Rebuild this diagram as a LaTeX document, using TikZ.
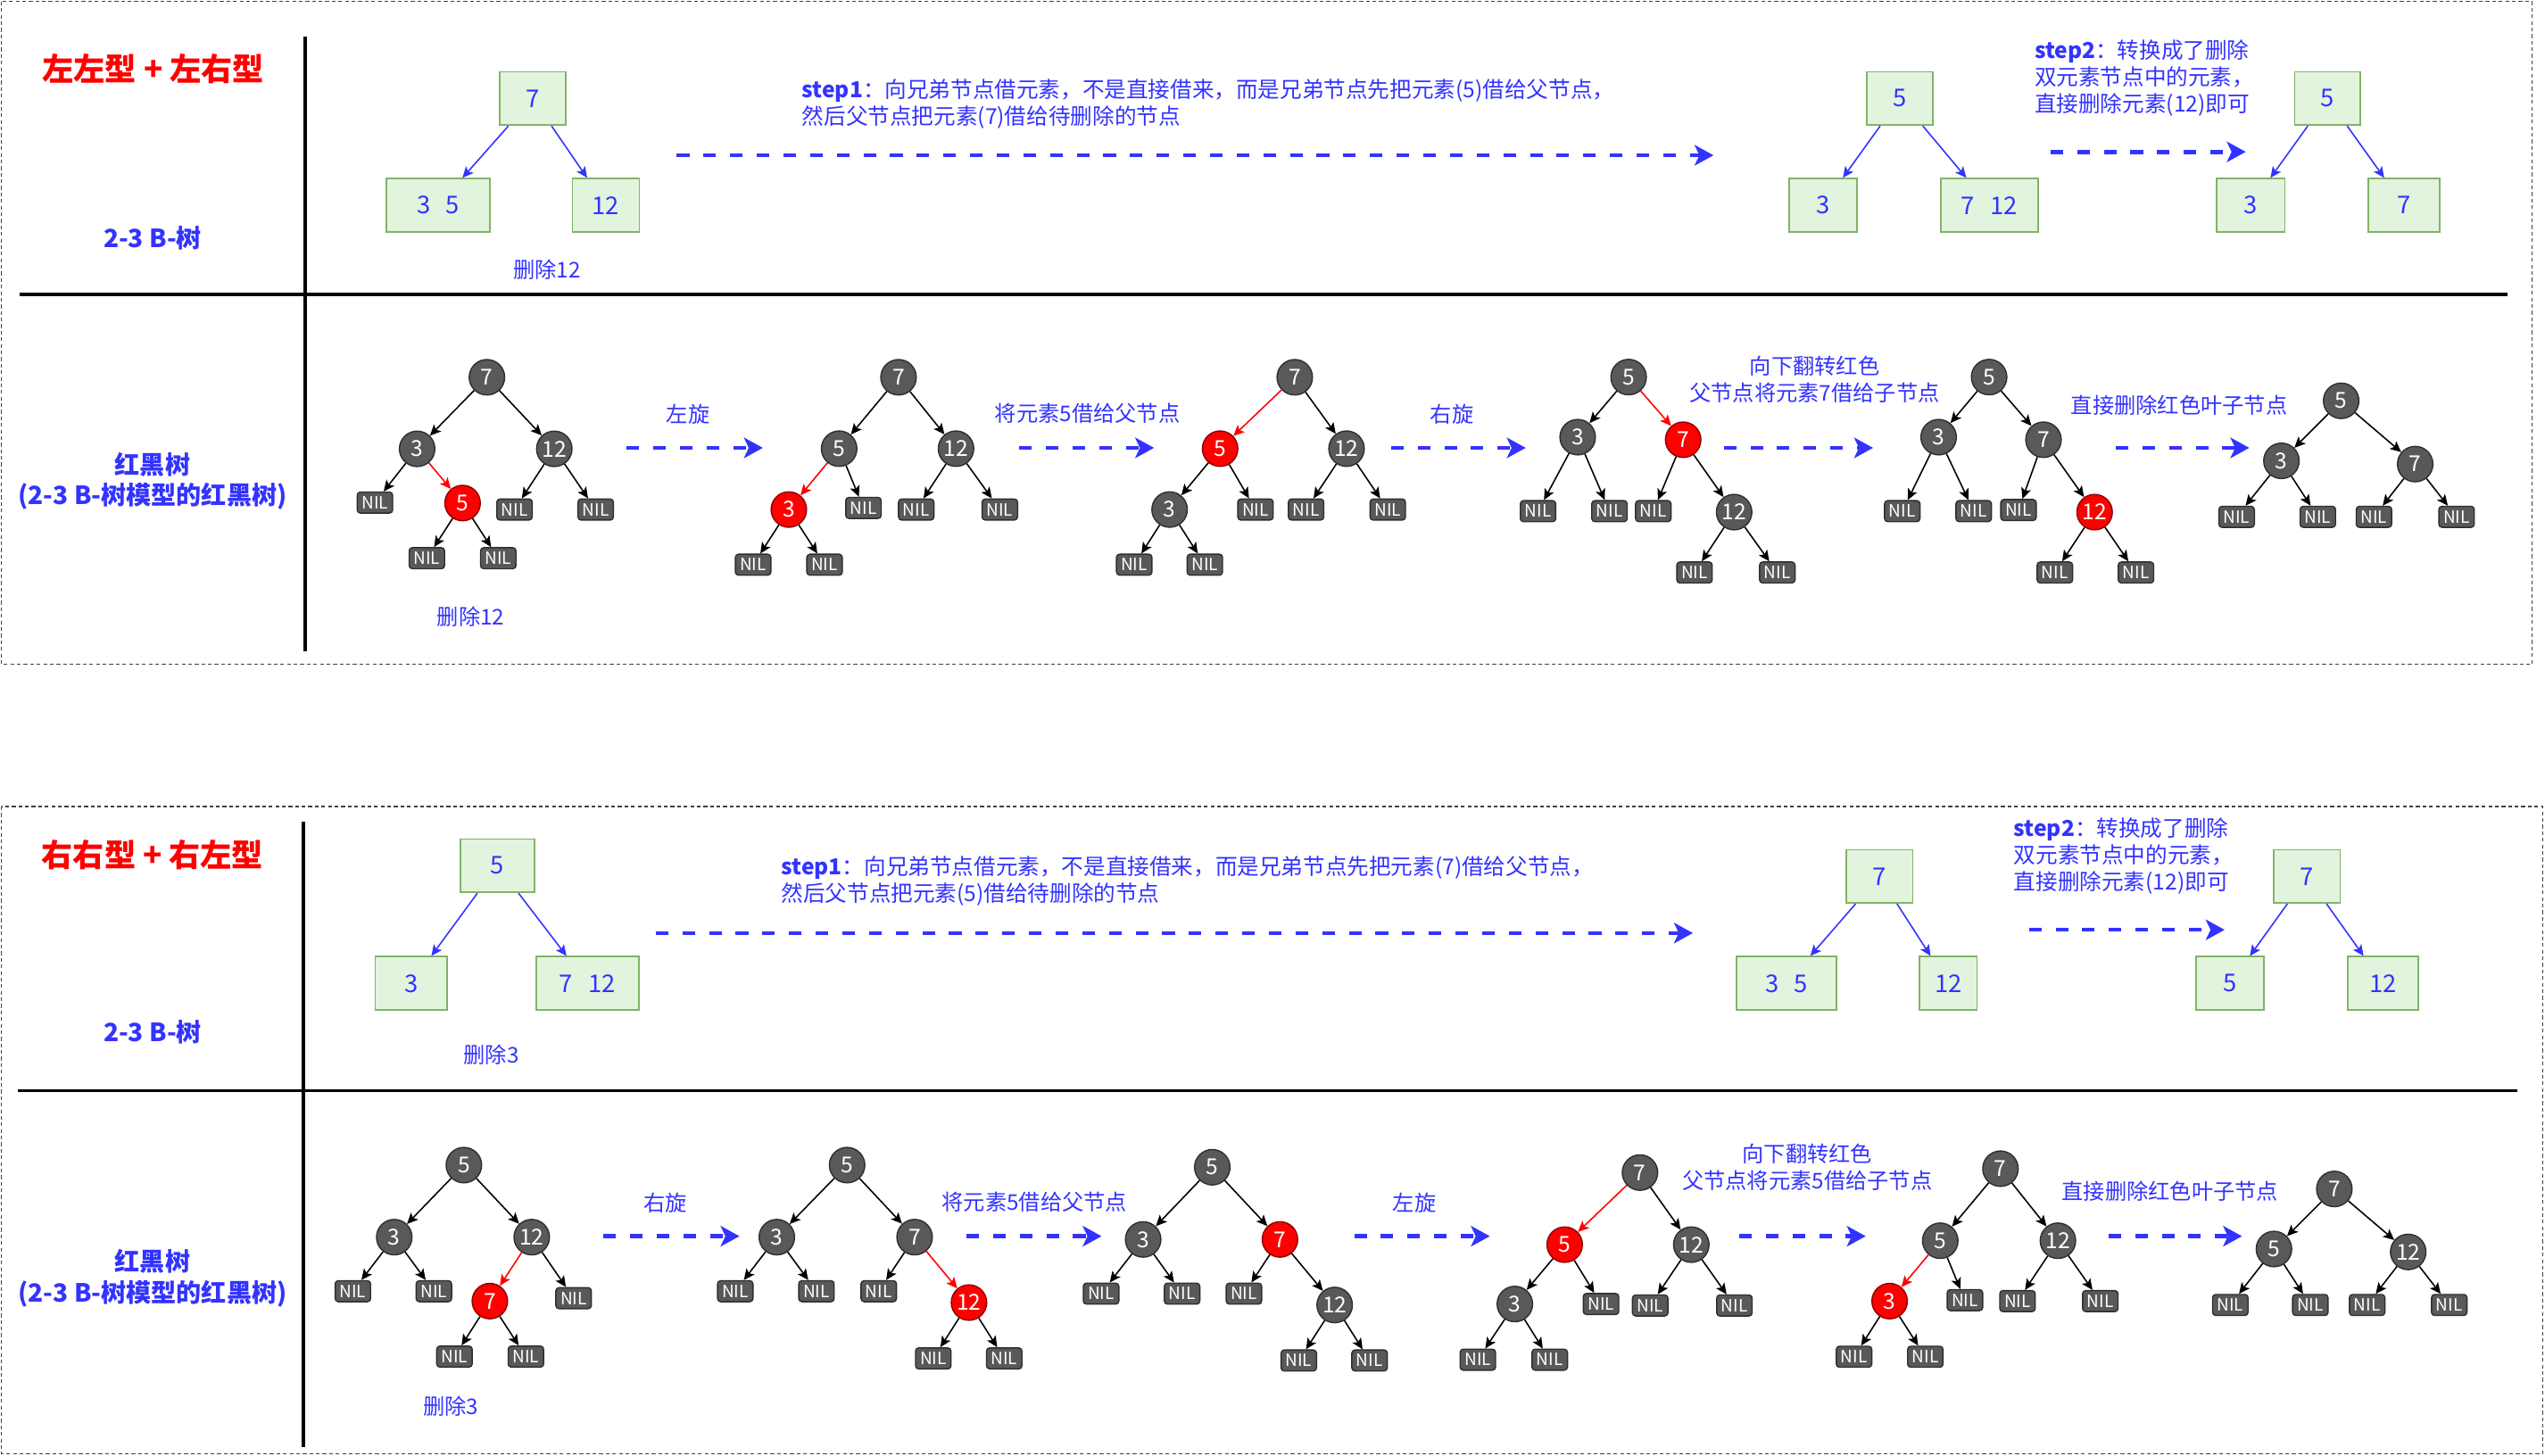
\documentclass[tikz,border=0pt]{standalone}
\usepackage{fontspec}
\setmainfont{Noto Sans CJK SC}
\usetikzlibrary{arrows.meta}
\definecolor{tblue}{HTML}{3333FF}
\definecolor{ngray}{HTML}{595959}
\definecolor{nborder}{HTML}{2E2E2E}
\definecolor{gfill}{HTML}{E2F4DE}
\definecolor{gdraw}{HTML}{82B366}
\definecolor{tred}{HTML}{FF0000}
\begin{document}
\begin{tikzpicture}[x=0.018189cm,y=-0.018189cm,
  blk/.style={circle, draw=nborder, fill=ngray, line width=0.4pt, minimum size=11.3pt, inner sep=0pt, text=white, font=\fontsize{7}{7}\selectfont},
  redn/.style={blk, fill=tred, draw=red!55!black},
  nilb/.style={rectangle, rounded corners=1pt, draw=nborder, fill=ngray, line width=0.4pt, minimum width=11.3pt, minimum height=6.7pt, inner sep=0pt, text=white, font=\fontsize{5.4}{5.4}\selectfont},
  gbox/.style={rectangle, draw=gdraw, fill=gfill, line width=0.5pt, minimum height=17pt, inner sep=0pt, text=tblue, font=\fontsize{7.8}{8}\selectfont},
  tedge/.style={-{Stealth[length=3.5pt,width=3.2pt,inset=0.8pt]}, line width=0.45pt, draw=black},
  redge/.style={tedge, draw=tred},
  bedge/.style={tedge, draw=tblue},
  darr/.style={draw=tblue, line width=1.3pt, dash pattern=on 4pt off 4.5pt, -{Stealth[length=6pt,width=6.5pt,inset=1.5pt]}},
  lbl/.style={text=tblue, font=\fontsize{6.9}{8.6}\selectfont, inner sep=0pt, align=center},
  stept/.style={text=tblue, font=\fontsize{7}{8.5}\selectfont, inner sep=0pt, align=left, anchor=west},
  ttl/.style={text=tred, font=\fontsize{10}{12}\selectfont\bfseries, inner sep=0pt},
  side/.style={text=tblue, font=\fontsize{8}{9.8}\selectfont\bfseries, inner sep=0pt, align=center},
  panel/.style={draw=black!75, line width=0.35pt, dash pattern=on 1.2pt off 0.9pt},
  divl/.style={draw=black, line width=1pt}
]
\useasboundingbox (0,0) rectangle (1568,897);

% ================= panels =================
\draw[panel] (1,1) rectangle (1560,409.5);
\draw[panel] (1,497) rectangle (1566.5,895.8);
\draw[divl] (188,22.4) -- (188,401.3);
\draw[divl] (12,181.4) -- (1545,181.4);
\draw[divl] (187,506.2) -- (187,891.6);
\draw[divl] (11.2,672) -- (1551,672);

% ================= left labels =================
\node[ttl] (tt1) at (94.5,42.5) {左左型 + 左右型};
\node[side] (sa1) at (94,146.6) {2-3 B-树};
\node[side] (sb1) at (94,296.5) {红黑树\\(2-3 B-树模型的红黑树)};
\node[ttl] (tt2) at (94,526.9) {右右型 + 右左型};
\node[side] (sa2) at (94,636) {2-3 B-树};
\node[side] (sb2) at (94,787.6) {红黑树\\(2-3 B-树模型的红黑树)};

% ================= top: 2-3 B tree =================
\node[gbox, minimum width=21pt] (p7) at (328.2,60.7) {7};
\node[gbox, minimum width=33pt] (p35) at (270,126.5) {3\hspace{5pt}5};
\node[gbox, minimum width=21.3pt] (p12) at (373.3,126.5) {12};
\draw[bedge] (p7) -- (p35);
\draw[bedge] (p7) -- (p12);
\node[lbl] (pdel) at (337,166) {删除12};

\node[stept] (ps1) at (493.8,64.2) {\textbf{step1}：向兄弟节点借元素，不是直接借来，而是兄弟节点先把元素(5)借给父节点，\\然后父节点把元素(7)借给待删除的节点};
\coordinate (pa1s) at (417,95.7);
\coordinate (pa1e) at (1055.7,95.7);
\draw[darr] (pa1s) -- (pa1e);

\node[gbox, minimum width=21.1pt] (q5) at (1170.5,60.7) {5};
\node[gbox, minimum width=21.7pt] (q3) at (1123.3,126.5) {3};
\node[gbox, minimum width=31pt] (q712) at (1225.6,126.5) {7\hspace{5pt}12};
\draw[bedge] (q5) -- (q3);
\draw[bedge] (q5) -- (q712);

\node[stept] (ps2) at (1253.2,48) {\textbf{step2}：转换成了删除\\双元素节点中的元素，\\直接删除元素(12)即可};
\coordinate (pa2s) at (1263.3,93.6);
\coordinate (pa2e) at (1383.6,93.6);
\draw[darr] (pa2s) -- (pa2e);

\node[gbox, minimum width=21pt] (r5) at (1434,60.7) {5};
\node[gbox, minimum width=21.7pt] (r3) at (1386.7,126.5) {3};
\node[gbox, minimum width=22.8pt] (r7) at (1481,126.5) {7};
\draw[bedge] (r5) -- (r3);
\draw[bedge] (r5) -- (r7);

% ================= top: red-black trees =================
% tree a
\node[blk] (a7) at (300,232.5) {7};
\node[blk] (a3) at (257,276.6) {3};
\node[blk] (a12) at (341.5,276.6) {12};
\node[nilb] (a3l) at (231,309.7) {NIL};
\node[redn] (a5) at (285,310) {5};
\node[nilb] (a12l) at (317,314) {NIL};
\node[nilb] (a12r) at (367,314) {NIL};
\node[nilb] (a5l) at (263,344) {NIL};
\node[nilb] (a5r) at (307,344) {NIL};
\draw[tedge] (a7) -- (a3);
\draw[tedge] (a7) -- (a12);
\draw[tedge] (a3) -- (a3l);
\draw[redge] (a3) -- (a5);
\draw[tedge] (a12) -- (a12l);
\draw[tedge] (a12) -- (a12r);
\draw[tedge] (a5) -- (a5l);
\draw[tedge] (a5) -- (a5r);
\node[lbl] (adel) at (290,380) {删除12};

\node[lbl] (l1) at (424,255) {左旋};
\coordinate (m1s) at (386,276);
\coordinate (m1e) at (470,276);
\draw[darr] (m1s) -- (m1e);

% tree b
\node[blk] (b7) at (553.6,232.5) {7};
\node[blk] (b5) at (517,276.5) {5};
\node[blk] (b12) at (589,276.5) {12};
\node[redn] (b3) at (486,314) {3};
\node[nilb] (b5r) at (532,313) {NIL};
\node[nilb] (b12l) at (564.5,314) {NIL};
\node[nilb] (b12r) at (616,314) {NIL};
\node[nilb] (b3l) at (464,348) {NIL};
\node[nilb] (b3r) at (508,348) {NIL};
\draw[tedge] (b7) -- (b5);
\draw[tedge] (b7) -- (b12);
\draw[redge] (b5) -- (b3);
\draw[tedge] (b5) -- (b5r);
\draw[tedge] (b12) -- (b12l);
\draw[tedge] (b12) -- (b12r);
\draw[tedge] (b3) -- (b3l);
\draw[tedge] (b3) -- (b3r);

\node[lbl] (l2) at (670,255) {将元素5借给父节点};
\coordinate (m2s) at (628,276);
\coordinate (m2e) at (711,276);
\draw[darr] (m2s) -- (m2e);

% tree c
\node[blk] (c7) at (797.7,232.5) {7};
\node[redn] (c5) at (751.7,276.5) {5};
\node[blk] (c12) at (829.6,276.5) {12};
\node[blk] (c3) at (720.6,314) {3};
\node[nilb] (c5r) at (773.5,314) {NIL};
\node[nilb] (c12l) at (804.7,314) {NIL};
\node[nilb] (c12r) at (855,314) {NIL};
\node[nilb] (c3l) at (698.8,348) {NIL};
\node[nilb] (c3r) at (742.3,348) {NIL};
\draw[redge] (c7) -- (c5);
\draw[tedge] (c7) -- (c12);
\draw[tedge] (c5) -- (c3);
\draw[tedge] (c5) -- (c5r);
\draw[tedge] (c12) -- (c12l);
\draw[tedge] (c12) -- (c12r);
\draw[tedge] (c3) -- (c3l);
\draw[tedge] (c3) -- (c3r);

\node[lbl] (l3) at (894.5,255) {右旋};
\coordinate (m3s) at (857,276);
\coordinate (m3e) at (940,276);
\draw[darr] (m3s) -- (m3e);

% tree d
\node[blk] (d5) at (1003.4,232.4) {5};
\node[blk] (d3) at (972,269.4) {3};
\node[redn] (d7) at (1037,271) {7};
\node[nilb] (d3l) at (947.6,315) {NIL};
\node[nilb] (d3r) at (991.6,315) {NIL};
\node[nilb] (d7l) at (1018.6,315) {NIL};
\node[blk] (d12) at (1068.4,315.6) {12};
\node[nilb] (d12l) at (1044,352.8) {NIL};
\node[nilb] (d12r) at (1095,352.8) {NIL};
\draw[tedge] (d5) -- (d3);
\draw[redge] (d5) -- (d7);
\draw[tedge] (d3) -- (d3l);
\draw[tedge] (d3) -- (d3r);
\draw[tedge] (d7) -- (d7l);
\draw[tedge] (d7) -- (d12);
\draw[tedge] (d12) -- (d12l);
\draw[tedge] (d12) -- (d12r);

\node[lbl] (l4) at (1118,233.7) {向下翻转红色\\父节点将元素7借给子节点};
\coordinate (m4s) at (1062,276);
\coordinate (m4e) at (1154,276);
\draw[darr] (m4s) -- (m4e);

% tree e
\node[blk] (e5) at (1225.5,232.4) {5};
\node[blk] (e3) at (1194.4,269.4) {3};
\node[blk] (e7) at (1259,271) {7};
\node[nilb] (e3l) at (1172,315) {NIL};
\node[nilb] (e3r) at (1216,315) {NIL};
\node[nilb] (e7l) at (1243.6,314.3) {NIL};
\node[redn] (e12) at (1290.5,315.6) {12};
\node[nilb] (e12l) at (1266,352.8) {NIL};
\node[nilb] (e12r) at (1316,352.8) {NIL};
\draw[tedge] (e5) -- (e3);
\draw[tedge] (e5) -- (e7);
\draw[tedge] (e3) -- (e3l);
\draw[tedge] (e3) -- (e3r);
\draw[tedge] (e7) -- (e7l);
\draw[tedge] (e7) -- (e12);
\draw[tedge] (e12) -- (e12l);
\draw[tedge] (e12) -- (e12r);

\node[lbl] (l5) at (1342.6,250) {直接删除红色叶子节点};
\coordinate (m5s) at (1303.5,276);
\coordinate (m5e) at (1385.8,276);
\draw[darr] (m5s) -- (m5e);

% tree f
\node[blk] (f5) at (1442.4,247) {5};
\node[blk] (f3) at (1405.6,284) {3};
\node[blk] (f7) at (1488,286) {7};
\node[nilb] (f3l) at (1378,318.5) {NIL};
\node[nilb] (f3r) at (1428,318.5) {NIL};
\node[nilb] (f7l) at (1462.6,318.5) {NIL};
\node[nilb] (f7r) at (1513.5,318.5) {NIL};
\draw[tedge] (f5) -- (f3);
\draw[tedge] (f5) -- (f7);
\draw[tedge] (f3) -- (f3l);
\draw[tedge] (f3) -- (f3r);
\draw[tedge] (f7) -- (f7l);
\draw[tedge] (f7) -- (f7r);

% ================= bottom: 2-3 B tree =================
\node[gbox, minimum width=23.7pt] (u5) at (306.5,533.5) {5};
\node[gbox, minimum width=23pt] (u3) at (253.4,606) {3};
\node[gbox, minimum width=32.8pt] (u712) at (362,606) {7\hspace{5pt}12};
\draw[bedge] (u5) -- (u3);
\draw[bedge] (u5) -- (u712);
\node[lbl] (udel) at (302.7,649.7) {删除3};

\node[stept] (us1) at (481,543) {\textbf{step1}：向兄弟节点借元素，不是直接借来，而是兄弟节点先把元素(7)借给父节点，\\然后父节点把元素(5)借给待删除的节点};
\coordinate (ua1s) at (404,575);
\coordinate (ua1e) at (1043,575);
\draw[darr] (ua1s) -- (ua1e);

\node[gbox, minimum width=21.3pt] (v7) at (1157.9,540.1) {7};
\node[gbox, minimum width=32pt] (v35) at (1100.7,606) {3\hspace{5pt}5};
\node[gbox, minimum width=18.3pt] (v12) at (1200.3,606) {12};
\draw[bedge] (v7) -- (v35);
\draw[bedge] (v7) -- (v12);

\node[stept] (us2) at (1240.4,527.5) {\textbf{step2}：转换成了删除\\双元素节点中的元素，\\直接删除元素(12)即可};
\coordinate (ua2s) at (1250,573);
\coordinate (ua2e) at (1370.6,573);
\draw[darr] (ua2s) -- (ua2e);

\node[gbox, minimum width=21.1pt] (w7) at (1421.4,540.1) {7};
\node[gbox, minimum width=21.7pt] (w5) at (1374,606) {5};
\node[gbox, minimum width=22.6pt] (w12) at (1468.2,606) {12};
\draw[bedge] (w7) -- (w5);
\draw[bedge] (w7) -- (w12);

% ================= bottom: red-black trees =================
% tree g
\node[blk] (g5) at (285.8,718) {5};
\node[blk] (g3) at (242.9,762.4) {3};
\node[blk] (g12) at (327.6,762.4) {12};
\node[nilb] (g3l) at (217.4,795.7) {NIL};
\node[nilb] (g3r) at (267.3,795.7) {NIL};
\node[redn] (g7) at (301.8,801.8) {7};
\node[nilb] (g12r) at (353.4,800) {NIL};
\node[nilb] (g7l) at (280,836) {NIL};
\node[nilb] (g7r) at (324,836) {NIL};
\draw[tedge] (g5) -- (g3);
\draw[tedge] (g5) -- (g12);
\draw[tedge] (g3) -- (g3l);
\draw[tedge] (g3) -- (g3r);
\draw[redge] (g12) -- (g7);
\draw[tedge] (g12) -- (g12r);
\draw[tedge] (g7) -- (g7l);
\draw[tedge] (g7) -- (g7r);
\node[lbl] (gdel) at (277.7,866.5) {删除3};

\node[lbl] (k1) at (410,741.3) {右旋};
\coordinate (n1s) at (371.7,761.8);
\coordinate (n1e) at (455.6,761.8);
\draw[darr] (n1s) -- (n1e);

% tree h
\node[blk] (h5) at (521.9,718) {5};
\node[blk] (h3) at (478.6,762.4) {3};
\node[blk] (h7) at (563.5,762.4) {7};
\node[nilb] (h3l) at (453,795.7) {NIL};
\node[nilb] (h3r) at (503,795.7) {NIL};
\node[nilb] (h7l) at (541.4,795.7) {NIL};
\node[redn] (h12) at (597,802.7) {12};
\node[nilb] (h12l) at (575,837.1) {NIL};
\node[nilb] (h12r) at (618.7,837.1) {NIL};
\draw[tedge] (h5) -- (h3);
\draw[tedge] (h5) -- (h7);
\draw[tedge] (h3) -- (h3l);
\draw[tedge] (h3) -- (h3r);
\draw[tedge] (h7) -- (h7l);
\draw[redge] (h7) -- (h12);
\draw[tedge] (h12) -- (h12l);
\draw[tedge] (h12) -- (h12r);

\node[lbl] (k2) at (637.4,741) {将元素5借给父节点};
\coordinate (n2s) at (595.4,761.8);
\coordinate (n2e) at (678.7,761.8);
\draw[darr] (n2s) -- (n2e);

% tree i
\node[blk] (i5) at (746.9,719.3) {5};
\node[blk] (i3) at (704.3,763.8) {3};
\node[redn] (i7) at (788.6,763.8) {7};
\node[nilb] (i3l) at (678.4,797.2) {NIL};
\node[nilb] (i3r) at (728.3,797.2) {NIL};
\node[nilb] (i7l) at (766.4,797.2) {NIL};
\node[blk] (i12) at (822.3,804.2) {12};
\node[nilb] (i12l) at (800.2,838.4) {NIL};
\node[nilb] (i12r) at (843.8,838.4) {NIL};
\draw[tedge] (i5) -- (i3);
\draw[tedge] (i5) -- (i7);
\draw[tedge] (i3) -- (i3l);
\draw[tedge] (i3) -- (i3r);
\draw[tedge] (i7) -- (i7l);
\draw[tedge] (i7) -- (i12);
\draw[tedge] (i12) -- (i12l);
\draw[tedge] (i12) -- (i12r);

\node[lbl] (k3) at (871.5,741) {左旋};
\coordinate (n3s) at (834.3,761.8);
\coordinate (n3e) at (917.9,761.8);
\draw[darr] (n3s) -- (n3e);

% tree j
\node[blk] (j7) at (1010.4,722.6) {7};
\node[redn] (j5) at (964,767) {5};
\node[blk] (j12) at (1042,767) {12};
\node[blk] (j3) at (933.3,803.6) {3};
\node[nilb] (j5r) at (986.4,803.6) {NIL};
\node[nilb] (j12l) at (1016.7,804.5) {NIL};
\node[nilb] (j12r) at (1068.6,804.5) {NIL};
\node[nilb] (j3l) at (910.5,837.9) {NIL};
\node[nilb] (j3r) at (954.8,837.9) {NIL};
\draw[redge] (j7) -- (j5);
\draw[tedge] (j7) -- (j12);
\draw[tedge] (j5) -- (j3);
\draw[tedge] (j5) -- (j5r);
\draw[tedge] (j12) -- (j12l);
\draw[tedge] (j12) -- (j12r);
\draw[tedge] (j3) -- (j3l);
\draw[tedge] (j3) -- (j3r);

\node[lbl] (k4) at (1113.5,719.1) {向下翻转红色\\父节点将元素5借给子节点};
\coordinate (n4s) at (1071.5,761.8);
\coordinate (n4e) at (1149.5,761.8);
\draw[darr] (n4s) -- (n4e);

% tree k
\node[blk] (k7) at (1232.5,720.2) {7};
\node[blk] (k5) at (1195.4,764.6) {5};
\node[blk] (k12) at (1267.9,764.6) {12};
\node[redn] (k3) at (1164.2,801.8) {3};
\node[nilb] (k5r) at (1210.6,801.2) {NIL};
\node[nilb] (k12l) at (1243,801.8) {NIL};
\node[nilb] (k12r) at (1294,801.8) {NIL};
\node[nilb] (k3l) at (1142.3,836.1) {NIL};
\node[nilb] (k3r) at (1186.2,836.1) {NIL};
\draw[tedge] (k7) -- (k5);
\draw[tedge] (k7) -- (k12);
\draw[redge] (k5) -- (k3);
\draw[tedge] (k5) -- (k5r);
\draw[tedge] (k12) -- (k12l);
\draw[tedge] (k12) -- (k12r);
\draw[tedge] (k3) -- (k3l);
\draw[tedge] (k3) -- (k3r);

\node[lbl] (k5lbl) at (1337,734) {直接删除红色叶子节点};
\coordinate (n5s) at (1299,761.8);
\coordinate (n5e) at (1381.3,761.8);
\draw[darr] (n5s) -- (n5e);

% tree l
\node[blk] (l7) at (1438.2,732.7) {7};
\node[blk] (l5) at (1401,769.7) {5};
\node[blk] (l12) at (1483.7,771.5) {12};
\node[nilb] (l5l) at (1374.1,804.2) {NIL};
\node[nilb] (l5r) at (1423.4,804.2) {NIL};
\node[nilb] (l12l) at (1458.4,804.2) {NIL};
\node[nilb] (l12r) at (1509,804.2) {NIL};
\draw[tedge] (l7) -- (l5);
\draw[tedge] (l7) -- (l12);
\draw[tedge] (l5) -- (l5l);
\draw[tedge] (l5) -- (l5r);
\draw[tedge] (l12) -- (l12l);
\draw[tedge] (l12) -- (l12r);
\end{tikzpicture}
\end{document}
